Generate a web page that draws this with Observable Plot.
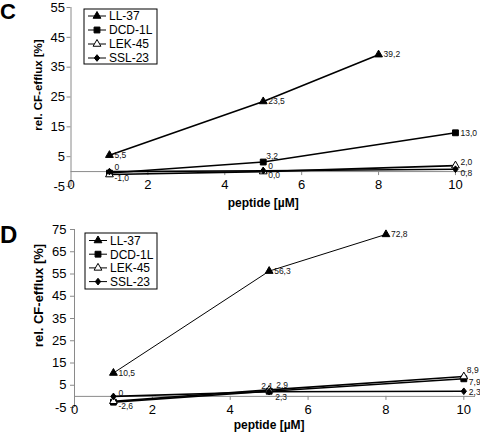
<!DOCTYPE html>
<html>
<head>
<meta charset="utf-8">
<script src="https://cdn.jsdelivr.net/npm/d3@7"></script>
<script src="https://cdn.jsdelivr.net/npm/@observablehq/plot@0.6"></script>
<style>
  body { margin: 0; background: #fff; }
  #wrap { position: relative; width: 480px; height: 432px; overflow: hidden; }
  #wrap svg { position: absolute; left: 0; }
</style>
</head>
<body>
<div id="wrap"></div>
<script>
// ---------- data ----------
const seriesNames = ["LL-37", "DCD-1L", "LEK-45", "SSL-23"];
const xTicks = [0, 2, 4, 6, 8, 10];
const yTicksC = [-5, 5, 15, 25, 35, 45, 55];
const yTicksD = [-5, 5, 15, 25, 35, 45, 55, 65, 75];
const xTitle = "peptide [µM]";
const yTitle = "rel. CF-efflux [%]";

const doseLL37 = [1, 5, 8];
const doseOther = [1, 5, 10];

// Panel C
const effluxC_LL37 = [5.5, 23.5, 39.2];
const effluxC_DCD1L = [-0.5, 3.2, 13.0];
const effluxC_LEK45 = [-1.0, 0.0, 2.0];
const effluxC_SSL23 = [0.0, 0.3, 0.8];
const labelsC_LL37 = ["5,5", "23,5", "39,2"];
const labelsC_DCD1L = ["", "3,2", "13,0"];
const labelsC_LEK45 = ["-1,0", "0,0", "2,0"];
const labelsC_SSL23 = ["0", "0", "0,8"];

// Panel D
const effluxD_LL37 = [10.5, 56.3, 72.8];
const effluxD_DCD1L = [-2.6, 2.3, 7.9];
const effluxD_LEK45 = [-2.2, 2.9, 8.9];
const effluxD_SSL23 = [0.0, 2.1, 2.3];
const labelsD_LL37 = ["10,5", "56,3", "72,8"];
const labelsD_DCD1L = ["-2,6", "2,3", "7,9"];
const labelsD_LEK45 = ["", "2,9", "8,9"];
const labelsD_SSL23 = ["0", "2,1", "2,3"];

// ---------- helpers ----------
function makeRows(series, xs, ys, labels) {
  return xs.map((x, i) => ({series, i, x, y: ys[i], label: labels[i]}));
}
const dataC = [
  makeRows("LL-37", doseLL37, effluxC_LL37, labelsC_LL37),
  makeRows("DCD-1L", doseOther, effluxC_DCD1L, labelsC_DCD1L),
  makeRows("LEK-45", doseOther, effluxC_LEK45, labelsC_LEK45),
  makeRows("SSL-23", doseOther, effluxC_SSL23, labelsC_SSL23)
];
const dataD = [
  makeRows("LL-37", doseLL37, effluxD_LL37, labelsD_LL37),
  makeRows("DCD-1L", doseOther, effluxD_DCD1L, labelsD_DCD1L),
  makeRows("LEK-45", doseOther, effluxD_LEK45, labelsD_LEK45),
  makeRows("SSL-23", doseOther, effluxD_SSL23, labelsD_SSL23)
];

const fontFam = '"Liberation Sans", Arial, Helvetica, sans-serif';
const axisGray = "#8a8a8a";

const diamondSym = {
  draw(ctx, size) {
    const h = Math.sqrt(size) / 2;
    ctx.moveTo(0, -h * 1.25);
    ctx.lineTo(h, 0);
    ctx.lineTo(0, h * 1.25);
    ctx.lineTo(-h, 0);
    ctx.closePath();
  }
};
const seriesStyle = {
  "LL-37":  {symbol: d3.symbolTriangle, fill: "black", r: 2.9},
  "DCD-1L": {symbol: d3.symbolSquare,  fill: "black", r: 3.3},
  "LEK-45": {symbol: d3.symbolTriangle, fill: "white", r: 2.9},
  "SSL-23": {symbol: diamondSym,        fill: "black", r: 3.0}
};

function panel(cfg) {
  const xMid = d3.mean(d3.extent(xTicks));
  const marks = [
    Plot.ruleY([0], {stroke: axisGray}),
    Plot.ruleX([0], {stroke: axisGray}),
    Plot.ruleX(xTicks.filter(d => d > 0), {x: d => d, y1: 0, y2: 0, insetBottom: -4, stroke: axisGray}),
    Plot.axisY({ticks: cfg.yticks, tickSize: 4, tickPadding: cfg.yPad, stroke: axisGray, fill: "black",
                label: null, fontSize: 13, tickFormat: d => String(d)}),
    Plot.axisX({ticks: xTicks, tickSize: 0, tickPadding: cfg.xPad, label: null, fontSize: 13,
                tickFormat: d => String(d)}),
    Plot.text([xTitle], {x: xMid, frameAnchor: "bottom", lineAnchor: "middle", textAnchor: "middle",
                         dy: cfg.xTitleDy, fontWeight: "bold", fontSize: 12, fill: "black"}),
    Plot.text([yTitle], {frameAnchor: "left", rotate: -90, textAnchor: "middle", lineAnchor: "middle",
                         dx: cfg.yTitleDx, dy: cfg.yTitleDy,
                         fontWeight: "bold", fontSize: cfg.yTitleFs, fill: "black"})
  ];
  cfg.data.forEach((rows, k) => {
    marks.push(Plot.line(rows, {x: "x", y: "y", stroke: "black", strokeWidth: cfg.lineWidth[k]}));
  });
  cfg.data.forEach((rows, k) => {
    const name = seriesNames[k];
    const st = seriesStyle[name];
    marks.push(Plot.dot(rows, {x: "x", y: "y", symbol: st.symbol, r: st.r, fill: st.fill,
                               stroke: "black", strokeWidth: 1}));
  });
  cfg.data.forEach((rows, k) => {
    rows.forEach(row => {
      if (!row.label) return;
      marks.push(Plot.text([row], {x: "x", y: "y", text: "label",
        dx: cfg.labelDx[k][row.i], dy: cfg.labelDy[k][row.i],
        textAnchor: "start", fontSize: 8.5, fill: "#111"}));
    });
  });
  const svg = Plot.plot({
    width: 480, height: 216,
    marginTop: cfg.mt, marginBottom: cfg.mb, marginLeft: cfg.ml, marginRight: cfg.mr,
    x: {domain: [0, 10.3], axis: null},
    y: {domain: cfg.ydom, axis: null},
    style: {fontFamily: fontFam, fontSize: "13px", color: "black", background: "white", overflow: "visible"},
    marks
  });
  const g = d3.select(svg).append("g").attr("font-family", fontFam).attr("text-anchor", "start");
  // panel letter
  g.append("text").attr("x", 0).attr("y", cfg.letterY).attr("font-size", cfg.letterFs)
    .attr("font-weight", "bold").attr("fill", "black").text(cfg.letter);
  // legend
  const L = cfg.legend;
  g.append("rect").attr("x", L.x).attr("y", L.y).attr("width", L.w).attr("height", L.h)
    .attr("fill", "white").attr("stroke", "black").attr("stroke-width", 1);
  seriesNames.forEach((name, i) => {
    const st = seriesStyle[name];
    const cy = L.row0 + i * L.step;
    g.append("line").attr("x1", L.x + 4).attr("x2", L.x + 22).attr("y1", cy).attr("y2", cy)
      .attr("stroke", "black").attr("stroke-width", 1);
    g.append("path").attr("transform", `translate(${L.x + 13},${cy})`)
      .attr("d", d3.symbol(st.symbol, Math.PI * st.r * st.r)())
      .attr("fill", st.fill).attr("stroke", "black").attr("stroke-width", 1);
    g.append("text").attr("x", L.x + 25).attr("y", cy).attr("dy", "0.36em")
      .attr("font-size", 12).attr("fill", "black").text(name);
  });
  return svg;
}

const svgC = panel({
  letter: "C", letterY: 19, letterFs: 22,
  data: dataC, ydom: [-5, 55], yticks: yTicksC,
  mt: 7, mb: 30, ml: 70.5, mr: 13.5,
  yPad: 2, xPad: -7, xTitleDy: 17,
  yTitleDx: -32.5, yTitleDy: -12, yTitleFs: 11.5,
  lineWidth: [1.6, 1.6, 1.6, 1.6],
  labelDx: [[5, 5, 5], [5, 3, 5], [5, 5, 5], [5, 5, 5]],
  labelDy: [[0, 0, 0], [0, -6, 0], [4, 4, -3], [-4, -4, 4]],
  legend: {x: 84, y: 9, w: 73, h: 55, row0: 16, step: 14}
});
svgC.style.top = "0px";

const svgD = panel({
  letter: "D", letterY: 27, letterFs: 24,
  data: dataD, ydom: [-5, 75], yticks: yTicksD,
  mt: 13, mb: 25, ml: 74, mr: 5,
  yPad: 4, xPad: -3, xTitleDy: 17.5,
  yTitleDx: -36, yTitleDy: -23, yTitleFs: 13,
  lineWidth: [1, 1.6, 1.6, 1.6],
  labelDx: [[5, 5, 5], [5, 6, 5], [5, 7, 3], [5, -8, 5]],
  labelDy: [[0, 0, 0], [4, 6, 3], [0, -5, -6], [-3, -5, 1]],
  legend: {x: 85, y: 17, w: 72, h: 56, row0: 24.5, step: 13.7}
});
svgD.style.top = "216px";

document.getElementById("wrap").append(svgC, svgD);
</script>
</body>
</html>
